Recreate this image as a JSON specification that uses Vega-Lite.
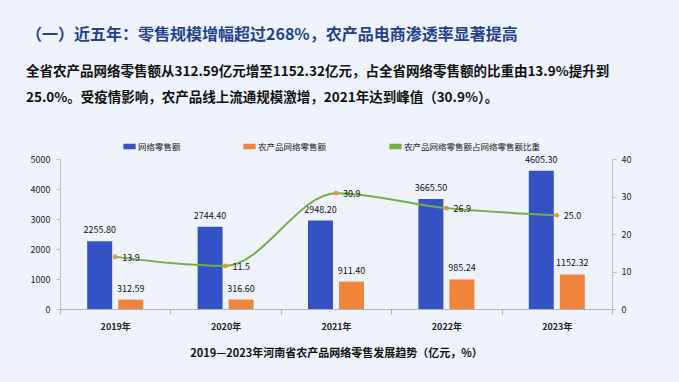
{
  "$schema": "https://vega.github.io/schema/vega-lite/v6.json",
  "width": 552,
  "height": 150,
  "autosize": {"type": "none"},
  "padding": {"left": 60, "top": 159, "right": 67, "bottom": 73},
  "background": "#eef3fb",
  "config": {
    "font": "Noto Sans CJK SC",
    "view": {"stroke": null}
  },
  "title": {
    "text": "（一）近五年：零售规模增幅超过268%，农产品电商渗透率显著提高",
    "subtitle": ["全省农产品网络零售额从312.59亿元增至1152.32亿元，占全省网络零售额的比重由13.9%提升到", "25.0%。受疫情影响，农产品线上流通规模激增，2021年达到峰值（30.9%）。"],
    "anchor": "start",
    "frame": "group",
    "dx": -34,
    "offset": 36,
    "font": "Noto Sans CJK SC",
    "fontSize": 16,
    "fontWeight": "bold",
    "color": "#24408f",
    "subtitleFont": "Noto Sans CJK SC",
    "subtitleFontSize": 13.5,
    "subtitleFontWeight": "bold",
    "subtitleColor": "#111111",
    "subtitleLineHeight": 26,
    "subtitlePadding": 22
  },
  "datasets": {
    "bars": [
      {"year": "2019年", "series": "网络零售额", "value": 2255.80},
      {"year": "2019年", "series": "农产品网络零售额", "value": 312.59},
      {"year": "2020年", "series": "网络零售额", "value": 2744.40},
      {"year": "2020年", "series": "农产品网络零售额", "value": 316.60},
      {"year": "2021年", "series": "网络零售额", "value": 2948.20},
      {"year": "2021年", "series": "农产品网络零售额", "value": 911.40},
      {"year": "2022年", "series": "网络零售额", "value": 3665.50},
      {"year": "2022年", "series": "农产品网络零售额", "value": 985.24},
      {"year": "2023年", "series": "网络零售额", "value": 4605.30},
      {"year": "2023年", "series": "农产品网络零售额", "value": 1152.32}
    ],
    "ratio": [
      {"year": "2019年", "ratio": 13.9},
      {"year": "2020年", "ratio": 11.5},
      {"year": "2021年", "ratio": 30.9},
      {"year": "2022年", "ratio": 26.9},
      {"year": "2023年", "ratio": 25.0}
    ]
  },
  "encoding": {
    "x": {
      "field": "year",
      "type": "nominal",
      "sort": null,
      "scale": {"paddingInner": 0, "paddingOuter": 0},
      "axis": {
        "title": "2019—2023年河南省农产品网络零售发展趋势（亿元，%）",
        "titleFontSize": 11,
        "titleFontWeight": "bold",
        "titleColor": "#111111",
        "titlePadding": 16,
        "labelAngle": 0,
        "labelFontSize": 9,
        "labelFontWeight": "bold",
        "labelColor": "#222222",
        "labelPadding": 8,
        "domainColor": "#aab4c4",
        "tickColor": "#aab4c4",
        "tickBand": "extent",
        "tickSize": 5
      }
    }
  },
  "layer": [
    {
      "data": {"name": "bars"},
      "encoding": {
        "xOffset": {"field": "series", "type": "nominal", "sort": ["网络零售额", "农产品网络零售额"], "scale": {"paddingInner": 0.194, "paddingOuter": 0.877}},
        "y": {
          "field": "value",
          "type": "quantitative",
          "scale": {"domain": [0, 5000], "nice": false},
          "axis": {
            "title": null,
            "values": [0, 1000, 2000, 3000, 4000, 5000],
            "format": "d",
            "grid": false,
            "labelFontSize": 9,
            "labelColor": "#222222",
            "labelPadding": 6,
            "domainColor": "#b6c2d6",
            "tickColor": "#b6c2d6",
            "tickSize": 4
          }
        }
      },
      "layer": [
        {
          "mark": {"type": "bar"},
          "encoding": {
            "color": {
              "field": "series",
              "type": "nominal",
              "scale": {
                "domain": ["网络零售额", "农产品网络零售额", "农产品网络零售额占网络零售额比重"],
                "range": ["#3452c4", "#f0843a", "#72b043"]
              },
              "legend": {
                "title": null,
                "orient": "none",
                "direction": "horizontal",
                "legendX": 63,
                "legendY": -19,
                "columnPadding": 62,
                "labelFontSize": 8.5,
                "labelColor": "#222222",
                "labelOffset": 2,
                "symbolType": "M-1,-0.45H1V0.45H-1Z",
                "symbolSize": 150,
                "symbolStrokeWidth": 0
              }
            }
          }
        },
        {
          "mark": {"type": "text", "fontSize": 9, "color": "#111111", "dy": -11, "baseline": "middle"},
          "encoding": {
            "text": {"field": "value", "type": "quantitative", "format": ".2f"}
          }
        }
      ]
    },
    {
      "data": {"name": "ratio"},
      "encoding": {
        "y": {
          "field": "ratio",
          "type": "quantitative",
          "scale": {"domain": [0, 40], "nice": false},
          "axis": {
            "orient": "right",
            "title": null,
            "values": [0, 10, 20, 30, 40],
            "grid": false,
            "labelFontSize": 9,
            "labelColor": "#222222",
            "labelPadding": 5,
            "domainColor": "#b6c2d6",
            "tickColor": "#b6c2d6",
            "tickSize": 4
          }
        }
      },
      "layer": [
        {
          "mark": {"type": "line", "interpolate": "monotone", "strokeWidth": 2},
          "encoding": {
            "color": {"datum": "农产品网络零售额占网络零售额比重"}
          }
        },
        {
          "mark": {"type": "point", "filled": true, "size": 22, "color": "#e8913f", "opacity": 1}
        },
        {
          "mark": {"type": "text", "fontSize": 9, "color": "#111111", "align": "left", "dx": 7, "dy": 1, "baseline": "middle"},
          "encoding": {
            "text": {"field": "ratio", "type": "quantitative", "format": ".1f"}
          }
        }
      ]
    }
  ],
  "resolve": {"scale": {"y": "independent"}}
}
